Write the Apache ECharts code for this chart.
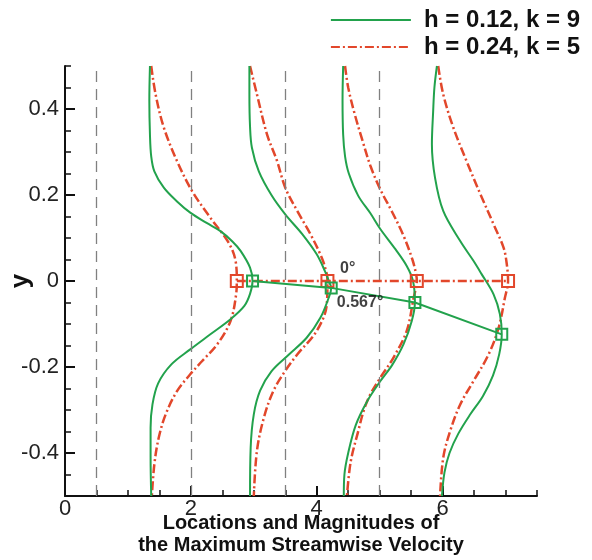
<!DOCTYPE html>
<html><head><meta charset="utf-8">
<script src="https://cdn.jsdelivr.net/npm/echarts@6/dist/echarts.min.js"></script>
<style>html,body{margin:0;padding:0;background:#fff}#c{width:592px;height:560px}</style>
</head><body><div id="c"></div>
<script>
// ---- data ----
const seriesNames = ['h = 0.12, k = 9', 'h = 0.24, k = 5'];
const xTicks = [0, 2, 4, 6];
const yTicks = [-0.4, -0.2, 0, 0.2, 0.4];
const refLines = [0.5, 2, 3.5, 5];

// green (h = 0.12, k = 9) velocity profiles, [x, y] from top to bottom
const green1 = [[1.35,0.5],[1.34,0.42],[1.35,0.34],[1.37,0.29],[1.42,0.255],[1.57,0.217],[1.78,0.185],[1.99,0.159],[2.25,0.135],[2.47,0.116],[2.66,0.092],[2.79,0.07],[2.94,0.031],[2.98,0],[2.94,-0.03],[2.85,-0.058],[2.63,-0.089],[2.31,-0.124],[1.99,-0.159],[1.69,-0.194],[1.48,-0.238],[1.39,-0.287],[1.36,-0.341],[1.36,-0.41],[1.37,-0.5]];
const green2 = [[2.93,0.5],[2.93,0.434],[2.94,0.36],[2.97,0.31],[3.08,0.255],[3.28,0.2],[3.5,0.155],[3.77,0.109],[4.0,0.062],[4.13,0.023],[4.2,-0.003],[4.23,-0.016],[4.19,-0.039],[4.06,-0.085],[3.84,-0.132],[3.55,-0.172],[3.28,-0.21],[3.1,-0.255],[3.0,-0.31],[2.95,-0.388],[2.94,-0.5]];
const green3 = [[4.42,0.5],[4.41,0.42],[4.42,0.34],[4.45,0.29],[4.51,0.25],[4.66,0.198],[4.85,0.158],[5.01,0.121],[5.25,0.074],[5.43,0.035],[5.53,0],[5.56,-0.05],[5.51,-0.093],[5.38,-0.147],[5.2,-0.195],[5.0,-0.235],[4.8,-0.28],[4.62,-0.335],[4.5,-0.4],[4.44,-0.45],[4.43,-0.5]];
const green4 = [[5.91,0.5],[5.87,0.45],[5.85,0.395],[5.83,0.318],[5.88,0.24],[6.01,0.163],[6.28,0.093],[6.49,0.047],[6.62,0.016],[6.81,-0.031],[6.91,-0.077],[6.94,-0.124],[6.9,-0.17],[6.8,-0.22],[6.64,-0.268],[6.44,-0.31],[6.25,-0.355],[6.11,-0.4],[6.03,-0.445],[5.99,-0.5]];

// red (h = 0.24, k = 5) velocity profiles
const red1 = [[1.37,0.5],[1.44,0.434],[1.57,0.357],[1.78,0.279],[2.02,0.209],[2.31,0.147],[2.6,0.089],[2.71,0.047],[2.73,0],[2.72,-0.03],[2.63,-0.093],[2.42,-0.147],[2.18,-0.186],[1.99,-0.217],[1.78,-0.256],[1.6,-0.31],[1.49,-0.364],[1.42,-0.426],[1.38,-0.5]];
const red2 = [[2.94,0.5],[3.05,0.434],[3.21,0.341],[3.37,0.279],[3.5,0.217],[3.69,0.163],[3.9,0.109],[4.08,0.054],[4.16,0.016],[4.17,0],[4.16,-0.054],[4.0,-0.116],[3.69,-0.171],[3.5,-0.209],[3.31,-0.256],[3.16,-0.318],[3.05,-0.395],[3.0,-0.5]];
const red3 = [[4.45,0.5],[4.5,0.45],[4.6,0.39],[4.72,0.33],[4.86,0.265],[5.02,0.21],[5.2,0.16],[5.38,0.105],[5.52,0.05],[5.58,0.015],[5.59,0],[5.54,-0.039],[5.43,-0.116],[5.22,-0.178],[5.01,-0.225],[4.85,-0.264],[4.75,-0.3],[4.66,-0.349],[4.54,-0.42],[4.48,-0.5]];
const red4 = [[5.93,0.5],[6.01,0.434],[6.17,0.357],[6.38,0.279],[6.6,0.202],[6.81,0.132],[6.97,0.077],[7.02,0.039],[7.04,0],[6.99,-0.039],[6.89,-0.109],[6.73,-0.171],[6.49,-0.233],[6.28,-0.287],[6.12,-0.349],[6.01,-0.411],[5.96,-0.5]];

// locations of maximum velocity
const greenPeakX = [2.98, 4.23, 5.56, 6.94];
const greenPeakY = [0, -0.016, -0.05, -0.124];
const redPeakX = [2.73, 4.17, 5.59, 7.04];
const redPeakY = [0, 0, 0, 0];

// angle annotations
const annotText = ['0°', '0.567°'];
const annotX = [4.37, 4.32];
const annotY = [0.028, -0.05];

// ---- chart ----
const GREEN = '#22a24c';
const RED = '#e2472b';
const FONT = 'Liberation Sans, Arial, sans-serif';
const dashDot = [9, 3, 2, 3];

const chart = echarts.init(document.getElementById('c'), null, {renderer: 'canvas'});

function prof(name, data, isGreen) {
  return {
    type: 'line', name: name, data: data, xAxisIndex: 0, yAxisIndex: 0,
    smooth: 0.35, symbol: 'none', z: isGreen ? 4 : 3,
    lineStyle: isGreen ? {color: GREEN, width: 2} : {color: RED, width: 2.5, type: dashDot},
    itemStyle: {color: isGreen ? GREEN : RED},
    emphasis: {disabled: true}, animation: false
  };
}

const series = [];
series.push({
  type: 'line', name: 'ref', data: [], xAxisIndex: 0, yAxisIndex: 0, animation: false,
  markLine: {
    silent: true, symbol: ['none', 'none'], label: {show: false},
    lineStyle: {color: '#808080', width: 1.3, type: [11, 7]},
    data: refLines.map(v => ({xAxis: v}))
  }
});
[red1, red2, red3, red4].forEach(d => series.push(prof(seriesNames[1], d, false)));
[green1, green2, green3, green4].forEach(d => series.push(prof(seriesNames[0], d, true)));
series.push({
  type: 'line', name: 'redPeaks', xAxisIndex: 0, yAxisIndex: 0, animation: false,
  data: redPeakX.map((x, i) => [x, redPeakY[i]]),
  symbol: 'rect', symbolSize: 12, showSymbol: true, z: 5,
  lineStyle: {color: RED, width: 2.5, type: dashDot},
  itemStyle: {color: 'rgba(255,255,255,0)', borderColor: RED, borderWidth: 2}
});
series.push({
  type: 'line', name: 'greenPeaks', xAxisIndex: 0, yAxisIndex: 0, animation: false,
  data: greenPeakX.map((x, i) => [x, greenPeakY[i]]),
  symbol: 'rect', symbolSize: 11, showSymbol: true, z: 6,
  lineStyle: {color: GREEN, width: 2},
  itemStyle: {color: 'rgba(255,255,255,0)', borderColor: GREEN, borderWidth: 2}
});
series.push({
  type: 'scatter', name: 'annot', xAxisIndex: 0, yAxisIndex: 0, animation: false,
  symbolSize: 0, z: 7,
  data: annotX.map((x, i) => ({value: [x, annotY[i]], label: {formatter: annotText[i]}})),
  label: {show: true, position: 'right', distance: 0, color: '#111', fontFamily: FONT, fontWeight: 'bold', fontSize: 16}
});

const option = {
  backgroundColor: '#fff',
  animation: false,
  legend: {
    data: seriesNames, orient: 'vertical', right: 7, top: 3,
    itemWidth: 80, itemHeight: 14, itemGap: 3,
    itemStyle: {opacity: 0},
    textStyle: {fontFamily: FONT, fontWeight: 'bold', fontSize: 24, color: '#111', padding: [0, 0, 0, 8]},
    selectedMode: false
  },
  grid: {left: 65, right: 55, top: 66, bottom: 64, containLabel: false, outerBoundsMode: 'none'},
  xAxis: [{
    type: 'value', min: 0, max: 7.5, interval: 0.5, position: 'bottom',
    axisLine: {show: true, onZero: false, lineStyle: {color: '#111', width: 2}},
    axisTick: {show: true, inside: true, length: 10, lineStyle: {color: '#111', width: 2}, customValues: xTicks},
    axisLabel: {show: true, margin: 2, fontFamily: FONT, fontSize: 22, color: '#222', customValues: xTicks},
    splitLine: {show: false},
    name: 'Locations and Magnitudes of\nthe Maximum Streamwise Velocity',
    nameLocation: 'middle', nameGap: 16, nameMoveOverlap: false,
    nameTextStyle: {fontFamily: FONT, fontWeight: 'bold', fontSize: 20, lineHeight: 22, color: '#111', align: 'center'}
  }, {
    type: 'value', min: 0, max: 7.5, interval: 0.5, position: 'bottom',
    axisLine: {show: false, onZero: false}, axisLabel: {show: false}, splitLine: {show: false},
    axisTick: {show: true, inside: true, length: 6, lineStyle: {color: '#111', width: 1.5}}
  }],
  yAxis: [{
    type: 'value', min: -0.5, max: 0.5, interval: 0.1, position: 'left',
    axisLine: {show: true, onZero: false, lineStyle: {color: '#111', width: 2}},
    axisTick: {show: true, inside: true, length: 10, lineStyle: {color: '#111', width: 2}, customValues: yTicks},
    axisLabel: {show: true, margin: 6, fontFamily: FONT, fontSize: 22, color: '#222', customValues: yTicks},
    splitLine: {show: false},
    name: 'y', nameLocation: 'middle', nameGap: 31, nameMoveOverlap: false,
    nameTextStyle: {fontFamily: FONT, fontWeight: 'bold', fontSize: 26, color: '#111'}
  }, {
    type: 'value', min: -0.5, max: 0.5, interval: 0.05, position: 'left',
    axisLine: {show: false, onZero: false}, axisLabel: {show: false}, splitLine: {show: false},
    axisTick: {show: true, inside: true, length: 6, lineStyle: {color: '#111', width: 1.5}}
  }],
  series: series
};
chart.setOption(option);
</script></body></html>
